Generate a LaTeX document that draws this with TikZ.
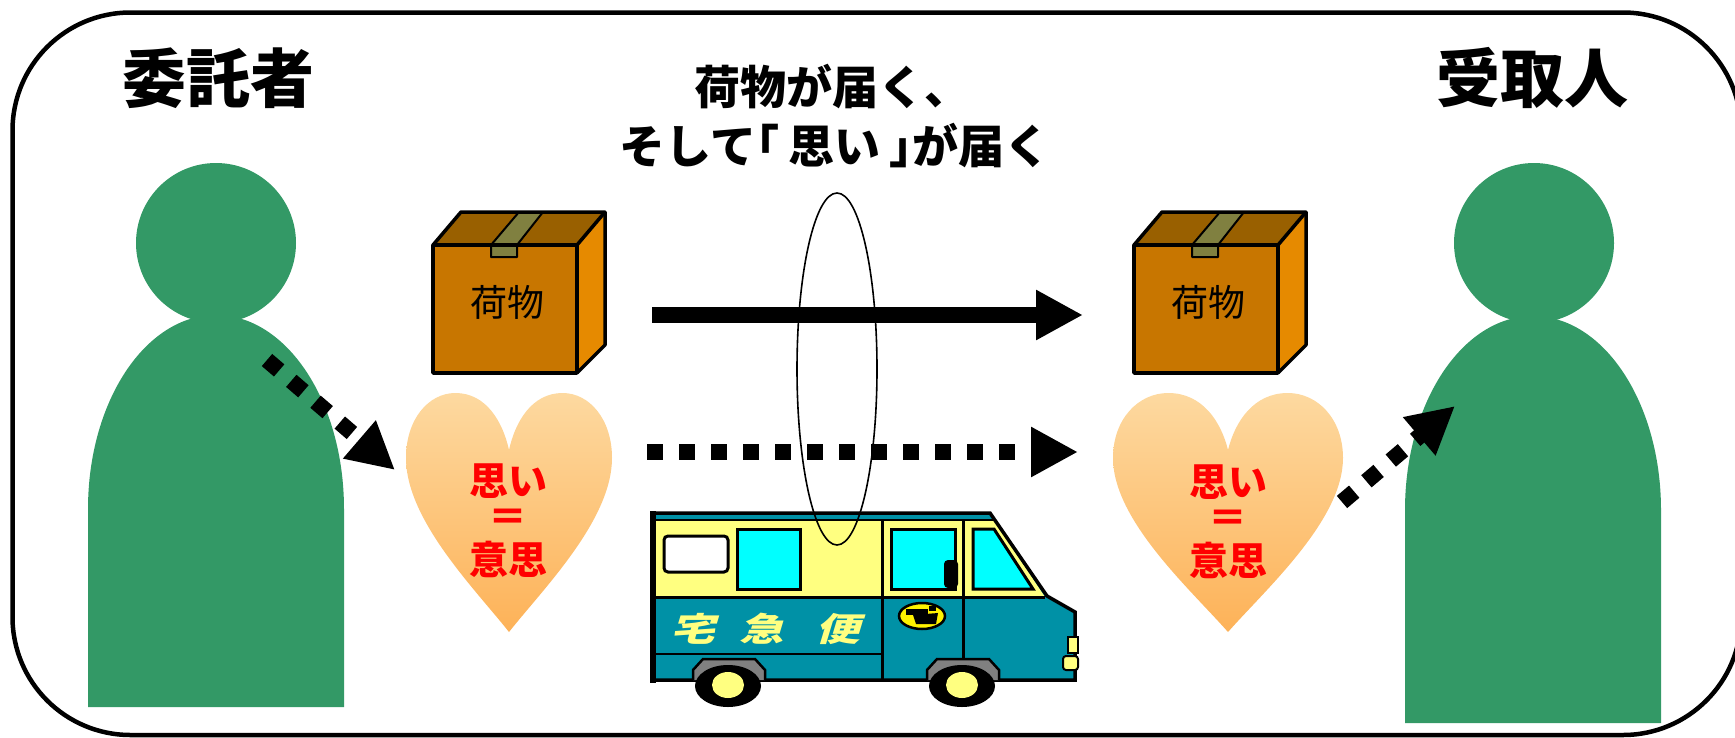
\documentclass[tikz,border=0pt]{standalone}
\usepackage{fontspec}
\newfontfamily\jp{Noto Sans CJK JP}
\newfontfamily\vanfont{Noto Sans CJK JP}[FakeSlant=0.3,FakeStretch=1.35]
\usetikzlibrary{arrows.meta,shapes.geometric}

\definecolor{persongreen}{RGB}{51,153,102}
\definecolor{parcelfront}{RGB}{200,118,0}
\definecolor{parceltop}{RGB}{153,96,0}
\definecolor{parcelside}{RGB}{230,138,0}
\definecolor{tapeolive}{RGB}{128,128,64}
\definecolor{heartlight}{RGB}{253,217,160}
\definecolor{heartdeep}{RGB}{253,178,88}
\definecolor{vanteal}{RGB}{0,145,166}
\definecolor{vanyellow}{RGB}{255,255,128}
\definecolor{glass}{RGB}{0,255,255}
\definecolor{archgrey}{RGB}{128,128,128}

\tikzset{
  role/.style={font=\jp\bfseries\fontsize{64}{70}\selectfont, inner sep=0pt},
  headline/.style={font=\jp\bfseries\fontsize{46}{50}\selectfont, inner sep=0pt},
  parcellabel/.style={font=\jp\fontsize{37}{40}\selectfont, inner sep=0pt},
  feeling/.style={font=\jp\bfseries\fontsize{39}{42}\selectfont, text=red, inner sep=0pt},
  vantext/.style={font=\vanfont\bfseries\fontsize{33}{36}\selectfont, text=vanyellow, inner sep=0pt},
  bigarrow/.style={line width=16pt, -{Triangle[length=47pt,width=47pt]}},
  dotarrow/.style={line width=16pt, dash pattern=on 16pt off 16pt, -{Triangle[length=47pt,width=47pt]}},
  outline/.style={draw=black, line width=3.5pt, line join=round},
  pics/parcel/.style={code={
    \fill[parcelfront] (0,0) rectangle (144,128);
    \fill[parceltop] (0,0) -- (28,-33) -- (172,-33) -- (144,0) -- cycle;
    \fill[parcelside] (144,0) -- (172,-33) -- (172,100) -- (144,128) -- cycle;
    \filldraw[fill=tapeolive, line width=2pt, line join=round]
      (58,12) -- (58,0) -- (86,-33) -- (110,-33) -- (84,0) -- (84,12) -- cycle;
    \draw[outline] (0,0) rectangle (144,128);
    \draw[outline] (0,0) -- (28,-33) -- (172,-33) -- (172,100) -- (144,128);
    \draw[outline] (144,0) -- (172,-33);
    \node[parcellabel] (-label) at (74,57) {荷物};
  }},
  pics/heart/.style={code={
    \shade[top color=heartlight, bottom color=heartdeep]
      (0,239) .. controls ({-0.33*#1},196) and ({-#1},127) .. ({-#1},65)
      .. controls ({-#1},26) and ({-0.78*#1},0) .. ({-0.52*#1},0)
      .. controls ({-0.22*#1},0) and ({-0.06*#1},29) .. (0,57)
      .. controls ({0.06*#1},29) and ({0.22*#1},0) .. ({0.52*#1},0)
      .. controls ({0.78*#1},0) and ({#1},26) .. ({#1},65)
      .. controls ({#1},127) and ({0.33*#1},196) .. (0,239) -- cycle;
  }}
}

\begin{document}
\begin{tikzpicture}[x=1pt, y=-1pt]
\useasboundingbox (0,0) rectangle (1735,737);
\clip (0,0) rectangle (1735,737);

% outer rounded frame
\draw[line width=4.5pt, rounded corners=118pt] (12.5,12.5) rectangle (1741,735);

% the two people
\fill[persongreen] (216,243) circle[radius=80pt];
\fill[persongreen] (88,707) -- (88,509)
  arc[start angle=180, end angle=360, x radius=128, y radius=194] -- (344,707) -- cycle;
\fill[persongreen] (1534,243) circle[radius=80pt];
\fill[persongreen] (1405,723) -- (1405,510)
  arc[start angle=180, end angle=360, x radius=128, y radius=194] -- (1661,723) -- cycle;

\node[role] (sender) at (218,78) {委託者};
\node[role] (receiver) at (1532,78) {受取人};

\node[headline] (head1) at (832,87) {荷物が届く、};
\node[headline] (head2) at (835,146)
  {そして\kern-0.5em「\kern0.2em思い\kern0.2em」\kern-0.5em が届く};

% parcels
\pic (boxL) at (433,245) {parcel};
\pic (boxR) at (1134,245) {parcel};

% hearts
\pic (heartL) at (509,393) {heart=103};
\pic (heartR) at (1228,393) {heart=115};
\node[feeling] (feelL1) at (508,481) {思い};
\node[feeling] (feelL2) at (508,520) {＝};
\node[feeling] (feelL3) at (508,559) {意思};
\node[feeling] (feelR1) at (1228,482) {思い};
\node[feeling] (feelR2) at (1228,521) {＝};
\node[feeling] (feelR3) at (1228,560) {意思};

% arrows
\coordinate (solidS) at (652,315);
\coordinate (solidE) at (1083,315);
\coordinate (dotS) at (647,452);
\coordinate (dotE) at (1078,452);
\coordinate (leftS) at (267,360);
\coordinate (leftE) at (395,470);
\coordinate (rightS) at (1342,502);
\coordinate (rightE) at (1455,406);
\draw[bigarrow] (solidS) -- (solidE);
\draw[dotarrow] (dotS) -- (dotE);
\draw[dotarrow] (leftS) -- (leftE);
\draw[dotarrow] (rightS) -- (rightE);

% delivery van
\fill[vanteal] (653,513) -- (990,513) -- (1047,596) -- (1075,612) -- (1075,680) -- (653,680) -- cycle;
\fill[vanyellow] (655,520) -- (994,520) -- (1045,597) -- (655,597) -- cycle;
\draw[line width=2.5pt] (655,520) -- (994,520);
\draw[line width=3pt] (655,597) -- (1045,597);
\draw[line width=3pt] (882,520) -- (882,680);
\draw[line width=3pt] (963,520) -- (963,658);
\draw[line width=2.5pt] (655,654) -- (882,654);
\filldraw[fill=white, line width=3pt, rounded corners=4pt] (664,536) rectangle (728,572);
\filldraw[fill=glass, line width=3pt] (737,529) rectangle (800,589);
\filldraw[fill=glass, line width=3pt] (891,529) rectangle (955,589);
\filldraw[fill=glass, line width=3pt] (973,529) -- (994,529) -- (1033,589) -- (973,589) -- cycle;
\fill[black, rounded corners=4pt] (944,560) rectangle (958,588);
\draw[line width=3.5pt, line join=miter] (653,513) -- (990,513) -- (1047,596) -- (1075,612) -- (1075,680) -- (653,680) -- cycle;
\draw[line width=6pt] (653,511) -- (653,683);
% wheels
\filldraw[fill=archgrey, line width=2.5pt] (693,680) -- (693,670) -- (703,659) -- (755,659) -- (765,670) -- (765,680);
\filldraw[fill=archgrey, line width=2.5pt] (927,680) -- (927,670) -- (937,659) -- (989,659) -- (999,670) -- (999,680);
\fill[black] (728,686) ellipse[x radius=33, y radius=21];
\fill[vanyellow] (728,685) ellipse[x radius=16, y radius=13];
\fill[black] (962,686) ellipse[x radius=33, y radius=21];
\fill[vanyellow] (962,685) ellipse[x radius=16, y radius=13];
% lamps
\filldraw[fill=vanyellow, line width=2pt] (1068,637) rectangle (1078,653);
\filldraw[fill=vanyellow, line width=2pt, rounded corners=3pt] (1063,656) rectangle (1078,670);
% emblem
\filldraw[fill=yellow, line width=2.5pt] (922,616) ellipse[x radius=23, y radius=13];
\fill[black] (906,609) rectangle (928,615);
\fill[black] (913,615) -- (938,613) -- (936,624) -- (916,624) -- cycle;
\fill[black] (929,606) rectangle (936,611);
% lettering on the side
\node[vantext] (van1) at (693,629) {宅};
\node[vantext] (van2) at (762,629) {急};
\node[vantext] (van3) at (838,629) {便};

% ring linking parcel and feeling
\draw[line width=1.6pt] (837,369) ellipse[x radius=40, y radius=176];
\end{tikzpicture}
\end{document}
